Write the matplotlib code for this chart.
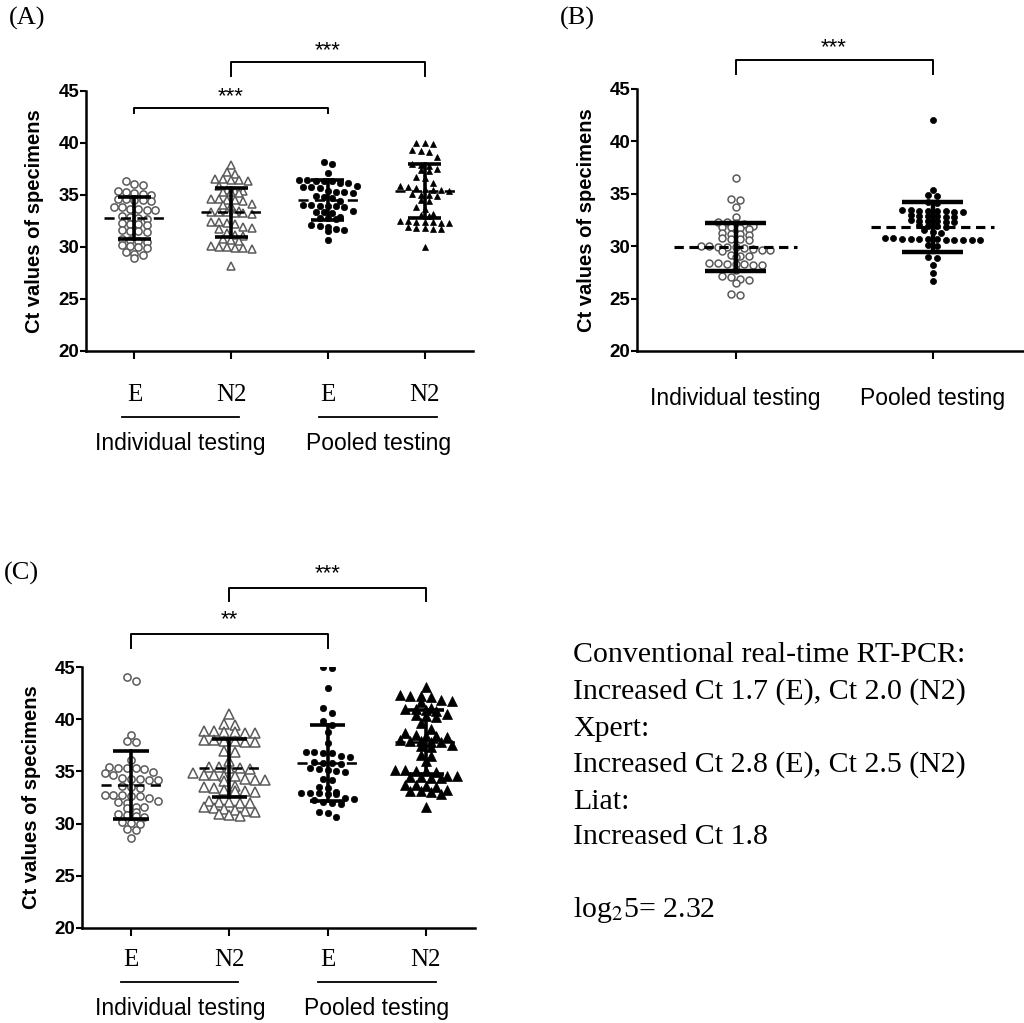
import numpy as np
import matplotlib
matplotlib.use("Agg")
import matplotlib.pyplot as plt
from matplotlib.lines import Line2D

plt.rcParams["font.family"] = ["Liberation Sans", "DejaVu Sans"]

# ---- data (Ct values) ----
# panel A: conventional real-time RT-PCR
a_ind_e = [36.3, 36.0, 36.1, 35.4, 35.3, 35.2, 35.0, 35.1, 34.6, 34.5, 34.5, 34.4, 34.6,
           33.8, 33.7, 33.6, 33.7, 33.8, 33.6, 32.9, 32.8, 33.0, 32.7, 32.2, 32.3, 32.1,
           32.2, 31.5, 31.4, 31.6, 31.5, 30.7, 30.6, 30.5, 30.8, 30.1, 30.0, 29.9, 30.2,
           29.5, 29.2, 29.3, 28.9]
a_ind_n2 = [37.9, 37.2, 37.0, 36.5, 36.4, 36.3, 36.4, 36.5, 35.9, 35.4, 35.3, 35.2, 35.4,
            35.3, 35.5, 34.6, 34.5, 34.4, 34.6, 34.5, 34.0, 34.1, 33.9, 33.4, 33.3, 33.5,
            33.4, 33.2, 33.3, 33.4, 32.4, 32.3, 32.2, 32.4, 31.8, 31.7, 31.9, 31.2, 31.1,
            31.3, 30.8, 30.7, 30.6, 30.0, 29.9, 30.1, 29.8, 29.9, 30.0, 28.2]
a_pool_e = [38.2, 38.0, 37.1, 36.4, 36.3, 36.2, 36.4, 36.3, 36.2, 36.3, 35.8, 35.9, 35.7,
            35.8, 35.3, 35.2, 35.4, 35.3, 34.8, 34.7, 34.9, 34.4, 33.9, 34.0, 33.8, 33.9,
            34.0, 33.9, 33.4, 33.3, 33.5, 33.4, 32.8, 32.7, 32.9, 32.8, 32.0, 31.9, 32.1,
            31.6, 31.5, 31.7, 30.7]
a_pool_n2 = [40.0, 39.9, 40.0, 39.2, 39.3, 39.1, 38.7, 38.0, 37.9, 37.8, 37.4, 37.3, 37.5,
             36.6, 36.7, 36.2, 35.8, 35.9, 35.7, 35.5, 35.6, 35.4, 35.5, 35.0, 35.1, 34.9,
             35.0, 34.5, 34.4, 33.7, 33.8, 33.1, 33.2, 33.0, 32.4, 32.3, 32.5, 32.4, 32.3,
             32.5, 32.4, 31.8, 31.7, 31.9, 31.8, 31.7, 30.0]
a_mean = [32.8, 33.35, 34.5, 35.4]
a_sd = [2.0, 2.35, 1.9, 2.6]

# panel B: Liat
b_ind = [36.5, 34.4, 34.5, 33.7, 32.8, 32.3, 32.2, 32.3, 32.1, 31.8, 31.7, 31.9, 31.8,
         31.6, 31.2, 31.1, 31.3, 31.2, 30.7, 30.8, 30.6, 30.7, 29.9, 30.0, 29.8, 29.9,
         30.0, 29.9, 29.6, 29.5, 29.7, 29.6, 29.1, 29.0, 29.2, 29.1, 28.3, 28.2, 28.4,
         28.3, 28.2, 28.3, 28.4, 27.7, 27.2, 27.1, 26.9, 26.8, 26.5, 25.4, 25.3]
b_pool = [42.0, 35.4, 34.8, 34.9, 34.2, 34.1, 33.4, 33.5, 33.3, 33.4, 33.5, 33.3, 33.4,
          33.4, 32.9, 32.8, 33.0, 32.9, 32.8, 32.9, 32.4, 32.3, 32.5, 32.4, 32.4, 32.3,
          31.9, 31.8, 32.0, 31.9, 31.4, 31.5, 31.3, 30.7, 30.6, 30.7, 30.8, 30.6, 30.7,
          30.6, 30.7, 30.8, 30.6, 30.7, 30.6, 30.1, 30.0, 29.0, 28.9, 28.2, 27.4, 26.7]
b_mean = [29.9, 31.8]
b_sd = [2.3, 2.4]

# panel C: Xpert
c_ind_e = [44.0, 43.7, 38.5, 37.9, 37.8, 36.1, 35.3, 35.4, 35.3, 35.2, 35.3, 34.8, 34.7,
           34.9, 34.3, 34.2, 34.3, 34.2, 34.4, 33.5, 33.6, 33.4, 32.7, 32.6, 32.7, 32.5,
           32.6, 32.7, 32.1, 32.0, 32.2, 31.6, 31.5, 31.6, 31.1, 30.9, 30.7, 30.6, 30.8,
           30.2, 30.1, 30.0, 29.5, 29.4, 28.6]
c_ind_n2 = [40.5, 39.5, 39.4, 38.9, 38.8, 38.7, 38.8, 38.9, 38.7, 37.9, 38.0, 37.8, 37.9,
            38.0, 37.8, 37.0, 36.9, 36.0, 35.4, 35.3, 35.4, 35.2, 35.3, 34.7, 34.6, 34.8,
            34.7, 34.6, 34.2, 34.3, 34.1, 34.2, 33.5, 33.4, 33.6, 33.1, 33.0, 33.2, 33.1,
            32.1, 32.0, 32.2, 32.1, 32.0, 31.5, 31.4, 31.6, 31.2, 31.1, 31.3, 30.8, 30.7, 30.9]
c_pool_e = [45.0, 44.9, 43.0, 41.1, 40.6, 39.8, 39.4, 38.8, 37.7, 36.9, 36.8, 36.9, 36.8,
            36.4, 36.5, 35.8, 35.7, 35.9, 35.8, 35.3, 35.2, 35.0, 34.9, 35.1, 34.3, 34.2,
            33.5, 33.4, 32.9, 32.8, 32.9, 33.0, 32.8, 32.9, 32.4, 32.3, 32.5, 32.1, 32.0,
            31.9, 31.1, 31.0, 30.6]
c_pool_n2 = [43.1, 42.2, 42.3, 42.2, 42.1, 41.7, 41.8, 41.6, 41.0, 40.9, 41.1, 40.8, 41.0,
             40.3, 40.4, 40.5, 40.2, 39.6, 39.1, 38.7, 38.4, 38.5, 38.3, 38.4, 37.9, 37.8,
             38.0, 37.9, 37.8, 37.4, 37.5, 37.3, 36.6, 36.5, 36.0, 35.1, 35.0, 34.9, 35.1,
             35.0, 34.5, 34.6, 34.4, 34.5, 34.6, 34.4, 33.7, 33.6, 33.5, 33.7, 33.1, 33.0,
             33.2, 33.1, 32.8, 31.6]
c_mean = [33.67, 35.3, 35.8, 37.8]
c_sd = [3.27, 2.78, 3.6, 3.05]

gene_labels = ["E", "N2", "E", "N2"]
group_labels = ["Individual testing", "Pooled testing"]

note_lines = ["Conventional real-time RT-PCR:",
              "Increased Ct 1.7 (E), Ct 2.0 (N2)",
              "Xpert:",
              "Increased Ct 2.8 (E), Ct 2.5 (N2)",
              "Liat:",
              "Increased Ct 1.8"]

SERIF = "Liberation Serif"
GRAY = "#5a5a5a"


def swarm_x(center, vals, dx, h=0.45):
    """Prism-like column scatter: points in the same row are spread sideways."""
    vals = np.sort(np.asarray(vals, dtype=float))[::-1]
    xs, ys = [], []
    row = [vals[0]]
    rows = []
    for v in vals[1:]:
        if row[0] - v < h:
            row.append(v)
        else:
            rows.append(row)
            row = [v]
    rows.append(row)
    for r in rows:
        n = len(r)
        offs = (np.arange(n) - (n - 1) / 2) * dx
        for o, v in zip(offs, r):
            xs.append(center + o)
            ys.append(v)
    return np.array(xs), np.array(ys)


def style_axes(ax, xmax, label_x):
    for s in ["top", "right"]:
        ax.spines[s].set_visible(False)
    for s in ["left", "bottom"]:
        ax.spines[s].set_linewidth(1.8)
    ax.set_ylim(20, 45)
    ax.set_xlim(0.5, xmax)
    ax.set_yticks([20, 25, 30, 35, 40, 45])
    ax.tick_params(axis="y", direction="out", length=4, width=1.5, labelsize=13.5, pad=1)
    ax.tick_params(axis="x", direction="out", length=6, width=1.5, labelbottom=False)
    for lab in ax.get_yticklabels():
        lab.set_fontweight("bold")
    ax.set_ylabel("Ct values of specimens", fontsize=14.5, fontweight="bold")
    ax.yaxis.set_label_coords(label_x, 0.5)


def draw_group(ax, x, vals, mean, sd, marker, filled, ms, dx, dash, cap_hw, mean_hw, lw_bar, h):
    xs, ys = swarm_x(x, vals, dx, h)
    if filled:
        ax.plot(xs, ys, ls="none", marker=marker, ms=ms, mfc="black", mec="black", mew=0.5, zorder=2)
    else:
        ax.plot(xs, ys, ls="none", marker=marker, ms=ms, mfc="white", mec=GRAY, mew=1.1, zorder=2)
    ax.plot([x - mean_hw, x + mean_hw], [mean, mean], color="black", lw=lw_bar * 0.7,
            ls=dash, zorder=3)
    ax.plot([x, x], [mean - sd, mean + sd], color="black", lw=lw_bar, zorder=3)
    for y in (mean - sd, mean + sd):
        ax.plot([x - cap_hw, x + cap_hw], [y, y], color="black", lw=lw_bar, zorder=3,
                solid_capstyle="butt")


def bracket(ax, x1, x2, y_top, y_leg, stars, y_txt):
    ax.plot([x1, x1, x2, x2], [y_leg, y_top, y_top, y_leg], color="black", lw=1.4,
            clip_on=False)
    ax.text((x1 + x2) / 2, y_txt, stars, ha="center", va="center", fontsize=16, clip_on=False)


def group_axis_labels(ax, y_gene, y_line, y_group, spans):
    tr = ax.get_xaxis_transform()
    for i, g in enumerate(gene_labels):
        ax.text(i + 1, y_gene, g, transform=tr, ha="center", va="center",
                family=SERIF, fontsize=18)
    for (a, b), name in zip(spans, group_labels):
        ax.add_line(Line2D([a, b], [y_line, y_line], transform=tr, color="black",
                           lw=1.3, clip_on=False))
        ax.text((a + b) / 2, y_group, name, transform=tr, ha="center", va="center",
                fontsize=16.5)


W, H = 1024, 1023
fig = plt.figure(figsize=(W / 100, H / 100), dpi=100)


def px_axes(left, top, right, bottom):
    return fig.add_axes([left / W, 1 - bottom / H, (right - left) / W, (bottom - top) / H])


# ---- panel A ----
axA = px_axes(86, 91, 473, 351)
style_axes(axA, 4.5, -0.108)
axA.set_xticks([1, 2, 3, 4])
a_groups = [a_ind_e, a_ind_n2, a_pool_e, a_pool_n2]
a_marks = [("o", False, 5.2), ("^", False, 5.2), ("o", True, 4.6), ("^", True, 5.0)]
for i, (vals, (mk, fill, ms)) in enumerate(zip(a_groups, a_marks)):
    draw_group(axA, i + 1, vals, a_mean[i], a_sd[i], mk, fill, ms, dx=0.085,
               dash=(0, (4, 2.5)), cap_hw=0.17, mean_hw=0.31, lw_bar=2.6, h=0.6)
bracket(axA, 1, 3, 43.4, 42.9, "***", 44.5)
bracket(axA, 2, 4, 47.8, 46.4, "***", 48.9)
group_axis_labels(axA, -0.17, -0.255, -0.355, [(0.87, 2.08), (2.91, 4.13)])
axA.text(-0.2, 1.28, "(A)", transform=axA.transAxes, family=SERIF, fontsize=19,
         ha="left", va="center")

# ---- panel B ----
axB = px_axes(637, 89, 1031, 351)
style_axes(axB, 2.5, -0.104)
axB.set_xticks([1, 2])
draw_group(axB, 1, b_ind, b_mean[0], b_sd[0], "o", False, 5.0, dx=0.044,
           dash=(0, (3, 1.8)), cap_hw=0.155, mean_hw=0.31, lw_bar=3.2, h=0.45)
draw_group(axB, 2, b_pool, b_mean[1], b_sd[1], "o", True, 4.4, dx=0.044,
           dash=(0, (3, 1.8)), cap_hw=0.155, mean_hw=0.31, lw_bar=3.2, h=0.45)
bracket(axB, 1, 2, 47.8, 46.4, "***", 48.9)
trB = axB.get_xaxis_transform()
for i, name in enumerate(group_labels):
    axB.text(i + 1, -0.18, name, transform=trB, ha="center", va="center", fontsize=16.5)
axB.text(-0.195, 1.27, "(B)", transform=axB.transAxes, family=SERIF, fontsize=19,
         ha="left", va="center")

# ---- panel C ----
axC = px_axes(82, 667, 475, 928)
style_axes(axC, 4.5, -0.104)
axC.set_xticks([1, 2, 3, 4])
c_groups = [c_ind_e, c_ind_n2, c_pool_e, c_pool_n2]
c_marks = [("o", False, 5.2), ("^", False, 7.0), ("o", True, 4.6), ("^", True, 6.6)]
for i, (vals, (mk, fill, ms)) in enumerate(zip(c_groups, c_marks)):
    dx = 0.09 if mk == "o" else 0.105
    draw_group(axC, i + 1, vals, c_mean[i], c_sd[i], mk, fill, ms, dx=dx,
               dash=(0, (4, 2.5)), cap_hw=0.18, mean_hw=0.31, lw_bar=2.6, h=0.6)
bracket(axC, 1, 3, 48.2, 46.8, "**", 49.5)
bracket(axC, 2, 4, 52.6, 51.3, "***", 53.9)
group_axis_labels(axC, -0.123, -0.207, -0.307, [(0.9, 2.09), (2.9, 4.1)])
axC.text(-0.2, 1.36, "(C)", transform=axC.transAxes, family=SERIF, fontsize=19,
         ha="left", va="center")

# ---- summary text ----
line_y = [655, 692, 729, 765, 802, 837]
for txt, y in zip(note_lines, line_y):
    fig.text(573 / W, 1 - y / H, txt, family=SERIF, fontsize=21.5, ha="left", va="center")
fig.text(573 / W, 1 - 910 / H, r"log$_2$5= 2.32", family=SERIF, fontsize=21.5,
         ha="left", va="center", math_fontfamily="stix")

fig.savefig("out.png", dpi=100)
